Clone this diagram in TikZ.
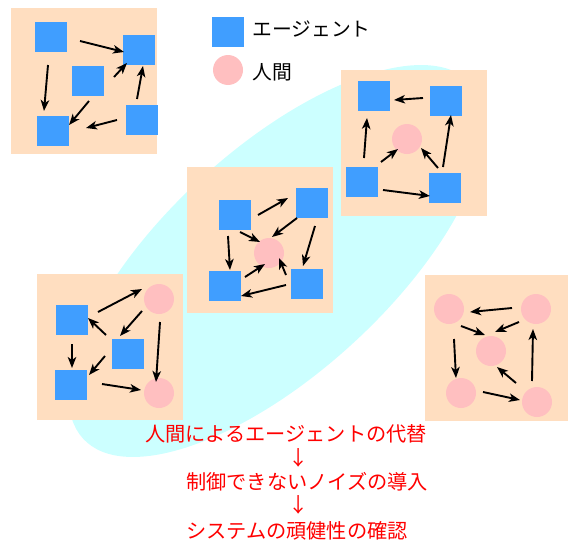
\documentclass[tikz,border=0pt]{standalone}
\usepackage{fontspec}
\newfontfamily\jp{Noto Sans CJK JP}
\usetikzlibrary{arrows.meta,calc}
\definecolor{panelc}{HTML}{FFDEC0}
\definecolor{agentc}{HTML}{409EFF}
\definecolor{humanc}{HTML}{FFBFC0}
\definecolor{ellc}{HTML}{CCFFFF}
\definecolor{redc}{HTML}{FF0000}
\tikzset{
  panel/.style={fill=panelc,draw=none},
  agent/.style={rectangle,fill=agentc,draw=none,minimum width=32pt,minimum height=30pt,inner sep=0pt},
  human/.style={circle,fill=humanc,draw=none,minimum size=30pt,inner sep=0pt},
  arr/.style={draw=black,line width=1.9pt,-{Stealth[length=11pt,width=8.5pt,inset=3pt]}},
  lbl/.style={font=\jp\fontsize{19.8}{23}\selectfont,text=black,inner sep=0pt,anchor=west},
  redtxt/.style={font=\jp\fontsize{20.2}{24}\selectfont,text=redc,inner sep=0pt},
}
\begin{document}
\begin{tikzpicture}[x=1pt,y=-1pt]
\useasboundingbox (0,0) rectangle (568,541);
% ellipse
\fill[ellc,rotate around={42.5:(277,261)}] (277,261) ellipse [x radius=263, y radius=112];
% panels
\fill[panel] (11,8) rectangle (157,154);
\fill[panel] (187,167) rectangle (333,313);
\fill[panel] (341,70) rectangle (487,216);
\fill[panel] (37,274) rectangle (183,420);
\fill[panel] (425,275) rectangle (571,421);
% panel 1
\node[agent] (A) at (51,37) {};
\node[agent] (B) at (139,50) {};
\node[agent] (C) at (88,81) {};
\node[agent] (D) at (53,131) {};
\node[agent] (E) at (142,120) {};
\draw[arr] ($(A)+(29,4)$) -- ($(B)+(-15,2)$);
\draw[arr] ($(A)+(-3,28)$) -- ($(D)+(-9,-20)$);
\draw[arr] ($(C)+(26,-4)$) -- ($(B)+(-12,13)$);
\draw[arr] ($(C)+(1,20)$) -- ($(D)+(16,-6)$);
\draw[arr] ($(E)+(-25,0)$) -- ($(D)+(33,-3)$);
\draw[arr] ($(E)+(-5,-21)$) -- ($(B)+(4,16)$);
% panel 2
\node[agent] (P) at (235,215) {};
\node[agent] (Q) at (312,203) {};
\node[agent] (R) at (225,286) {};
\node[agent] (S) at (307,284) {};
\node[human] (H) at (269,253) {};
\draw[arr] ($(P)+(23,0)$) -- ($(Q)+(-24,-5)$);
\draw[arr] ($(Q)+(-15,15)$) -- ($(H)+(3,-16)$);
\draw[arr] ($(P)+(5,17)$) -- ($(H)+(-9,-11)$);
\draw[arr] ($(P)+(-7,21)$) -- ($(R)+(5,-16)$);
\draw[arr] ($(Q)+(3,23)$) -- ($(S)+(-4,-18)$);
\draw[arr] ($(R)+(20,-9)$) -- ($(H)+(-4,11)$);
\draw[arr] ($(S)+(-21,-9)$) -- ($(H)+(10,5)$);
\draw[arr] ($(S)+(-21,1)$) -- ($(R)+(16,10)$);
% panel 3
\node[agent] (T1) at (374,96) {};
\node[agent] (T2) at (446,101) {};
\node[agent] (T3) at (362,182) {};
\node[agent] (T4) at (445,188) {};
\node[human] (G) at (407,139) {};
\draw[arr] ($(T2)+(-23,-3)$) -- ($(T1)+(20,4)$);
\draw[arr] ($(T3)+(2,-24)$) -- ($(T1)+(-7,22)$);
\draw[arr] ($(T3)+(19,-20)$) -- ($(G)+(-9,10)$);
\draw[arr] ($(T3)+(21,8)$) -- ($(T4)+(-15,8)$);
\draw[arr] ($(T4)+(-7,-20)$) -- ($(G)+(14,9)$);
\draw[arr] ($(T4)+(-2,-21)$) -- ($(T2)+(5,14)$);
% panel 4
\node[agent] (U1) at (72,320) {};
\node[agent] (U2) at (128,354) {};
\node[agent] (U3) at (71,385) {};
\node[human] (H1) at (159,299) {};
\node[human] (H2) at (159,393) {};
\draw[arr] ($(U1)+(26,-8)$) -- ($(H1)+(-17,-10)$);
\draw[arr] ($(H1)+(-17,12)$) -- ($(U2)+(-8,-18)$);
\draw[arr] ($(U2)+(-22,-19)$) -- ($(U1)+(16,-2)$);
\draw[arr] ($(U1)+(0,24)$) -- ($(U3)+(1,-17)$);
\draw[arr] ($(U2)+(-23,2)$) -- ($(U3)+(18,-10)$);
\draw[arr] ($(U3)+(31,-1)$) -- ($(H2)+(-18,-3)$);
\draw[arr] ($(H1)+(1,23)$) -- ($(H2)+(-3,-11)$);
% panel 5
\node[human] (K1) at (449,309) {};
\node[human] (K2) at (536,309) {};
\node[human] (K3) at (491,351) {};
\node[human] (K4) at (461,393) {};
\node[human] (K5) at (537,402) {};
\draw[arr] ($(K2)+(-24,-1)$) -- ($(K1)+(21,3)$);
\draw[arr] ($(K1)+(12,17)$) -- ($(K3)+(-6,-16)$);
\draw[arr] ($(K2)+(-17,13)$) -- ($(K3)+(4,-19)$);
\draw[arr] ($(K1)+(5,30)$) -- ($(K4)+(-5,-15)$);
\draw[arr] ($(K4)+(22,-1)$) -- ($(K5)+(-17,-2)$);
\draw[arr] ($(K5)+(-5,-21)$) -- ($(K2)+(-3,20)$);
\draw[arr] ($(K5)+(-21,-19)$) -- ($(K3)+(6,16)$);
% legend
\node[agent] (LA) at (228,32) {};
\node[human] (LH) at (228,70) {};
\node[lbl] (LAt) at (252,29) {エージェント};
\node[lbl] (LHt) at (252,72) {人間};
% red text
\node[redtxt,anchor=west] (r1) at (145,434) {人間によるエージェントの代替};
\node[redtxt] (a1) at (299,458) {↓};
\node[redtxt,anchor=west] (r2) at (186,482) {制御できないノイズの導入};
\node[redtxt] (a2) at (299,505) {↓};
\node[redtxt,anchor=west] (r3) at (186,531) {システムの頑健性の確認};
\end{tikzpicture}
\end{document}
